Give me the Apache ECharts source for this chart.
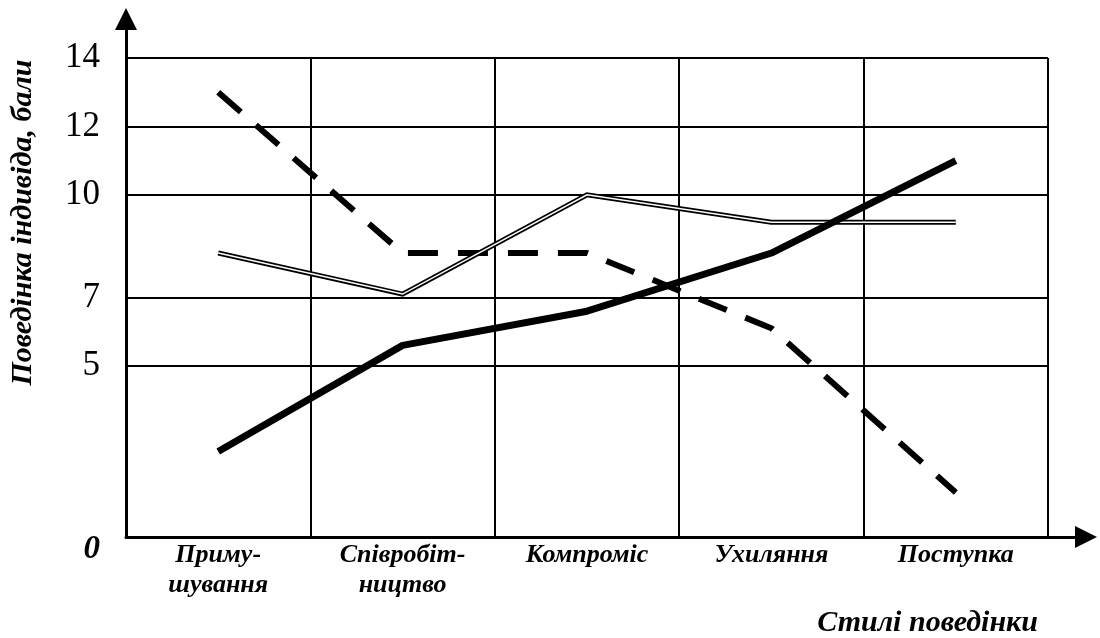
<!DOCTYPE html>
<html>
<head>
<meta charset="utf-8">
<script src="https://cdn.jsdelivr.net/npm/echarts@6/dist/echarts.min.js"></script>
<style>
  html, body { margin: 0; padding: 0; background: #fff; }
  #chart { width: 1100px; height: 638px; }
</style>
</head>
<body>
<div id="chart"></div>
<script>
// ---- data ----
const categories = ['Приму-\nшування', 'Співробіт-\nництво', 'Компроміс', 'Ухиляння', 'Поступка'];
const dashedValues = [13.0, 8.3, 8.3, 6.1, 1.3];
const doubleValues = [8.3, 7.1, 10.0, 9.2, 9.2];
const solidValues  = [2.5, 5.6, 6.6, 8.3, 11.0];
const yTickValues = [0, 5, 7, 10, 12, 14];
const yTickLabels = ['0', '5', '7', '10', '12', '14'];
const yAxisTitle = 'Поведінка індивіда, бали';
const xAxisTitle = 'Стилі поведінки';

const SERIF = '"Liberation Serif", "Times New Roman", serif';
const chart = echarts.init(document.getElementById('chart'), null, { renderer: 'canvas' });

const option = {
  backgroundColor: '#ffffff',
  animation: false,
  title: {
    text: xAxisTitle,
    right: 57, top: 603,
    textStyle: { fontFamily: SERIF, fontStyle: 'italic', fontWeight: 'bold', fontSize: 30, color: '#000' }
  },
  grid: [
    { left: 126, right: 52, top: 58, bottom: 101 },
    { left: 126, right: 14, top: 19, bottom: 101 }
  ],
  xAxis: [
    {
      gridIndex: 0, type: 'category', data: categories, boundaryGap: true,
      axisLine: { show: false }, axisTick: { show: false },
      splitLine: { show: true, interval: 0, lineStyle: { color: '#000', width: 2 } },
      axisLabel: {
        interval: 0, margin: 3, color: '#000', fontFamily: SERIF, fontStyle: 'italic',
        fontWeight: 'bold', fontSize: 26, lineHeight: 30, align: 'center'
      }
    },
    {
      gridIndex: 1, type: 'value', min: 0, max: 1,
      axisLine: { show: true, symbol: ['none', 'triangle'], symbolSize: [22, 22], lineStyle: { color: '#000', width: 3 } },
      axisTick: { show: false }, axisLabel: { show: false }, splitLine: { show: false }
    }
  ],
  yAxis: [
    {
      gridIndex: 0, type: 'value', min: 0, max: 14,
      axisLine: { show: false },
      axisTick: { show: false, customValues: yTickValues },
      splitLine: { show: true, lineStyle: { color: '#000', width: 2 } },
      axisLabel: {
        customValues: yTickValues, margin: 26, color: '#000',
        formatter: function (v) {
          const i = yTickValues.indexOf(v);
          const t = i >= 0 ? yTickLabels[i] : String(v);
          return v === 0 ? '{z|' + t + '}' : '{n|' + t + '}';
        },
        rich: {
          n: { fontFamily: SERIF, fontSize: 35, color: '#000' },
          z: { fontFamily: SERIF, fontSize: 33, fontStyle: 'italic', fontWeight: 'bold', color: '#000', padding: [24, 0, 0, 0] }
        }
      },
      name: yAxisTitle, nameLocation: 'middle', nameRotate: 90, nameGap: 88,
      nameTextStyle: {
        fontFamily: SERIF, fontStyle: 'italic', fontWeight: 'bold', fontSize: 30, color: '#000',
        padding: [0, 0, 0, 150]
      }
    },
    {
      gridIndex: 1, type: 'value', min: 0, max: 1,
      axisLine: { show: true, symbol: ['none', 'triangle'], symbolSize: [22, 22], lineStyle: { color: '#000', width: 3 } },
      axisTick: { show: false }, axisLabel: { show: false }, splitLine: { show: false }
    }
  ],
  series: [
    {
      name: 'dashed', type: 'line', xAxisIndex: 0, yAxisIndex: 0, data: dashedValues,
      showSymbol: false, symbol: 'none', z: 5,
      lineStyle: { color: '#000', width: 6, type: [30, 20], cap: 'butt', join: 'miter' }
    },
    {
      name: 'double-outer', type: 'line', xAxisIndex: 0, yAxisIndex: 0, data: doubleValues,
      showSymbol: false, symbol: 'none', z: 6,
      lineStyle: { color: '#000', width: 5, join: 'miter' }
    },
    {
      name: 'double-inner', type: 'line', xAxisIndex: 0, yAxisIndex: 0, data: doubleValues,
      showSymbol: false, symbol: 'none', z: 7,
      lineStyle: { color: '#fff', width: 1.5, join: 'miter' }
    },
    {
      name: 'solid', type: 'line', xAxisIndex: 0, yAxisIndex: 0, data: solidValues,
      showSymbol: false, symbol: 'none', z: 8,
      lineStyle: { color: '#000', width: 7, join: 'round' }
    }
  ]
};
chart.setOption(option);
</script>
</body>
</html>
